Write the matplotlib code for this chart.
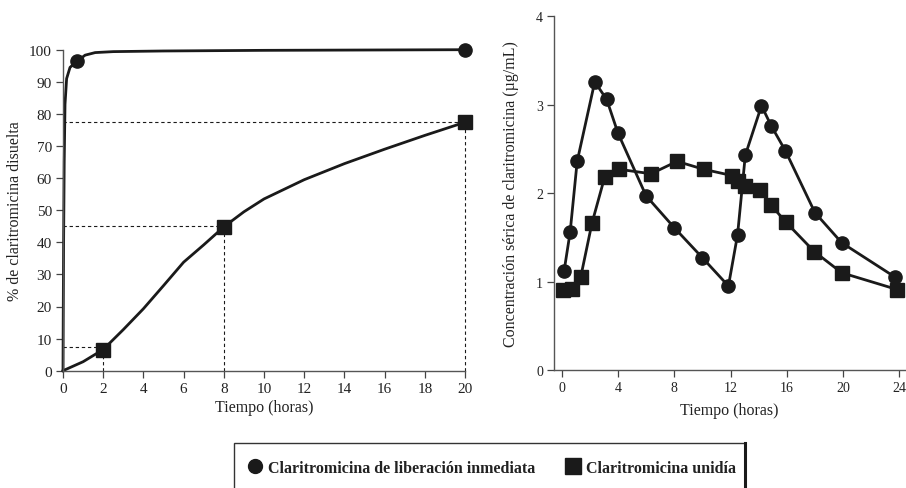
import matplotlib
matplotlib.use("Agg")
from matplotlib import pyplot as plt
from matplotlib.lines import Line2D
from matplotlib.patches import Rectangle

# --- left panel: dissolution (% disuelta vs horas) ---
dis_ir_t = [0, 0.01, 0.03, 0.06, 0.1, 0.18, 0.35, 0.72, 1.1, 1.6, 2.5, 5, 10, 15, 20]
dis_ir_y = [0, 15, 40, 65, 83, 91, 94.5, 96.5, 98.3, 99.1, 99.4, 99.6, 99.8, 99.9, 100]
dis_ir_mark_t = [0.72, 20]
dis_ir_mark_y = [96.5, 100]

dis_er_t = [0, 1, 2, 3, 4, 5, 6, 7, 8, 9, 10, 12, 14, 16, 18, 20]
dis_er_y = [0, 2.8, 6.6, 12.8, 19.3, 26.5, 33.8, 39.2, 44.8, 49.5, 53.5, 59.5, 64.5, 69, 73.3, 77.4]
dis_er_mark_t = [2, 8, 20]
dis_er_mark_y = [6.6, 44.8, 77.4]

ref_t = [2, 8, 20]
ref_y = [7.5, 45, 77.5]

# --- right panel: serum concentration (ug/mL vs horas) ---
ir_t = [0.17, 0.6, 1.1, 2.35, 3.2, 4.0, 6.0, 8.0, 10.0, 11.85, 12.5, 13.05, 14.2, 14.9, 15.9, 18.0, 19.9, 23.7]
ir_c = [1.12, 1.56, 2.36, 3.26, 3.06, 2.68, 1.97, 1.61, 1.27, 0.95, 1.53, 2.43, 2.99, 2.76, 2.48, 1.78, 1.44, 1.05]
er_t = [0.1, 0.7, 1.35, 2.15, 3.05, 4.1, 6.35, 8.2, 10.1, 12.1, 12.55, 13.05, 14.1, 14.85, 15.95, 17.95, 19.9, 23.85]
er_c = [0.90, 0.92, 1.05, 1.66, 2.18, 2.27, 2.22, 2.36, 2.27, 2.20, 2.14, 2.08, 2.04, 1.87, 1.67, 1.34, 1.10, 0.91]

label_ir = "Claritromicina de liberación inmediata"
label_er = "Claritromicina unidía"

ink = "#1a1a1a"
plt.rcParams["font.family"] = ["Liberation Serif", "DejaVu Serif"]
plt.rcParams["text.color"] = "#222222"
plt.rcParams["axes.labelcolor"] = "#222222"
plt.rcParams["xtick.color"] = "#444444"
plt.rcParams["ytick.color"] = "#444444"
plt.rcParams["xtick.labelcolor"] = "#222222"
plt.rcParams["ytick.labelcolor"] = "#222222"

fig = plt.figure(figsize=(9.06, 4.89), dpi=100)
W, H = 906, 489

def box(x0, x1, ytop, ybot):
    return [x0 / W, (H - ybot) / H, (x1 - x0) / W, (ybot - ytop) / H]

# left
ax1 = fig.add_axes(box(63, 465, 50.7, 371.7))
ax1.plot(dis_ir_t, dis_ir_y, color=ink, lw=2, clip_on=False)
ax1.plot(dis_ir_mark_t, dis_ir_mark_y, "o", color=ink, ms=9.5, clip_on=False)
ax1.plot(dis_er_t, dis_er_y, color=ink, lw=2, clip_on=False)
ax1.plot(dis_er_mark_t, dis_er_mark_y, "s", color=ink, ms=10.5, clip_on=False)
for t, y in zip(ref_t, ref_y):
    ax1.plot([0, t], [y, y], color=ink, lw=0.8, ls=(0, (3, 2.5)), clip_on=False)
    ax1.plot([t, t], [0, y], color=ink, lw=0.8, ls=(0, (3, 2.5)), clip_on=False)
ax1.set_xlim(0, 20)
ax1.set_ylim(0, 100)
ax1.set_xticks(range(0, 21, 2))
ax1.set_yticks(range(0, 101, 10))
ax1.set_xlabel("Tiempo (horas)", fontsize=11.5, labelpad=3)
ax1.set_ylabel("% de claritromicina disuelta", fontsize=11.5, labelpad=4)

# right
ax2 = fig.add_axes(box(554, 905, 17.4, 371))
ax2.plot(ir_t, ir_c, "-o", color=ink, lw=2, ms=9.5, clip_on=False)
ax2.plot(er_t, er_c, "-s", color=ink, lw=2, ms=10.5, clip_on=False)
ax2.set_xlim(-0.547, 24.4)
ax2.set_ylim(0, 4)
ax2.set_xticks(range(0, 25, 4))
ax2.set_yticks(range(0, 5))
ax2.set_xlabel("Tiempo (horas)", fontsize=11.5, labelpad=6)
ax2.set_ylabel("Concentración sérica de claritromicina (µg/mL)", fontsize=11.5, labelpad=12)

for ax, fs in ((ax1, 11), (ax2, 10)):
    ax.spines["top"].set_visible(False)
    ax.spines["right"].set_visible(False)
    for s in ("left", "bottom"):
        ax.spines[s].set_color("#555555")
        ax.spines[s].set_linewidth(1.0)
    ax.tick_params(direction="out", length=5, width=0.9, labelsize=fs, pad=3)

# legend, boxed, bottom edge runs off the figure
handles = [Line2D([], [], ls="none", marker="o", color=ink, ms=10),
           Line2D([], [], ls="none", marker="s", color=ink, ms=12)]
fig.legend(handles, [label_ir, label_er], ncol=2, frameon=False,
           loc="center left", bbox_to_anchor=(234 / W, (H - 469) / H),
           prop={"weight": "bold", "size": 11.5}, handlelength=0.8,
           handletextpad=0.4, columnspacing=2.0)
fig.patches.append(Rectangle((234 / W, -0.1), (745 - 234) / W, (H - 444) / H + 0.1,
                             transform=fig.transFigure, fill=False,
                             edgecolor="#333333", lw=1.0))
fig.lines.append(Line2D([745 / W, 745 / W], [-0.1, (H - 444) / H],
                        transform=fig.transFigure, color=ink, lw=2.2))

fig.savefig("out.png", dpi=100)
